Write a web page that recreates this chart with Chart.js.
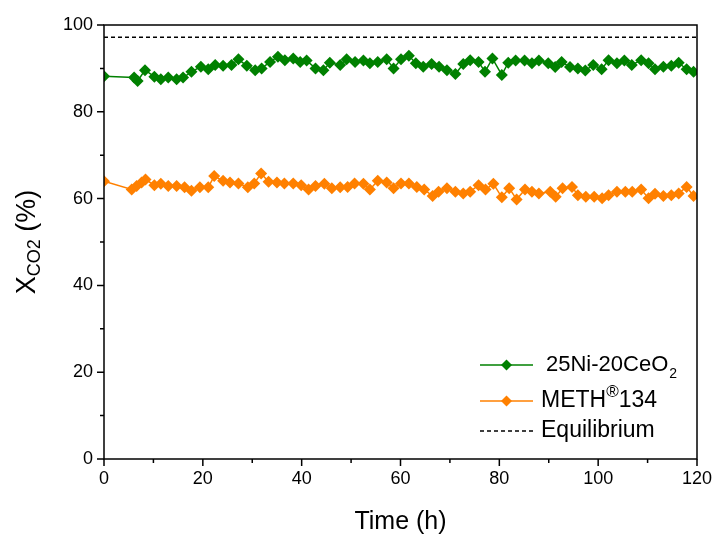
<!DOCTYPE html>
<html>
<head>
<meta charset="utf-8">
<script src="https://cdn.jsdelivr.net/npm/chart.js@4/dist/chart.umd.min.js"></script>
<style>
html,body{margin:0;padding:0;background:#fff;}
#wrap{width:717px;height:539px;position:relative;}
</style>
</head>
<body>
<div id="wrap"><canvas id="c" width="717" height="539"></canvas></div>
<script>
// ---- data ----
const greenTime = [0, 6.1, 6.8, 8.3, 10.2, 11.5, 13.0, 14.7, 16.0, 17.7, 19.6, 21.1, 22.5, 24.1, 25.8, 27.2, 28.9, 30.6, 31.9, 33.6, 35.2, 36.6, 38.3, 39.7, 41.0, 42.8, 44.4, 45.7, 47.8, 49.1, 50.8, 52.5, 53.8, 55.4, 57.2, 58.6, 60.1, 61.7, 63.1, 64.6, 66.3, 67.8, 69.4, 71.1, 72.7, 74.1, 75.8, 77.1, 78.6, 80.5, 81.8, 83.3, 85.1, 86.6, 88.0, 89.9, 91.3, 92.6, 94.3, 95.9, 97.4, 99.0, 100.7, 102.1, 103.8, 105.3, 106.8, 108.7, 110.2, 111.5, 113.2, 114.8, 116.3, 117.9, 119.3];
const greenVal = [88.2, 87.9, 87.1, 89.6, 88.1, 87.5, 87.9, 87.5, 87.9, 89.2, 90.4, 89.8, 90.8, 90.6, 90.8, 92.1, 90.6, 89.6, 90.0, 91.5, 92.7, 91.9, 92.3, 91.5, 91.8, 90.0, 89.6, 91.3, 90.8, 92.1, 91.5, 91.8, 91.2, 91.5, 92.1, 90.0, 92.1, 92.9, 91.2, 90.4, 91.0, 90.4, 89.6, 88.7, 91.0, 91.9, 91.5, 89.2, 92.3, 88.5, 91.3, 91.8, 91.8, 91.2, 91.8, 91.2, 90.3, 91.5, 90.3, 90.0, 89.5, 90.8, 89.8, 91.9, 91.2, 91.8, 90.8, 91.9, 91.2, 89.8, 90.4, 90.6, 91.3, 89.8, 89.2];
const orangeTime = [0, 5.6, 6.6, 7.6, 8.4, 10.2, 11.5, 13.0, 14.7, 16.3, 17.7, 19.4, 21.1, 22.3, 24.1, 25.5, 27.2, 29.1, 30.4, 31.8, 33.3, 35.0, 36.5, 38.3, 39.9, 41.4, 42.8, 44.6, 46.1, 47.8, 49.3, 50.7, 52.5, 53.8, 55.4, 57.2, 58.6, 60.1, 61.7, 63.3, 64.8, 66.5, 67.7, 69.4, 71.1, 72.7, 74.1, 75.8, 77.2, 78.8, 80.5, 82.0, 83.5, 85.2, 86.6, 88.0, 90.3, 91.4, 92.8, 94.7, 95.9, 97.5, 99.2, 100.8, 102.1, 103.8, 105.5, 106.9, 108.7, 110.2, 111.5, 113.2, 114.8, 116.3, 117.9, 119.3];
const orangeVal = [64.0, 62.1, 62.9, 63.7, 64.4, 63.1, 63.4, 62.9, 62.9, 62.6, 61.8, 62.6, 62.6, 65.2, 64.1, 63.7, 63.5, 62.6, 63.5, 65.8, 63.9, 63.7, 63.5, 63.5, 63.1, 62.1, 62.9, 63.4, 62.4, 62.6, 62.7, 63.5, 63.4, 62.1, 64.1, 63.7, 62.4, 63.5, 63.5, 62.7, 62.1, 60.6, 61.6, 62.4, 61.6, 61.2, 61.6, 63.1, 62.1, 63.4, 60.3, 62.4, 59.8, 62.1, 61.6, 61.2, 61.6, 60.4, 62.4, 62.7, 60.8, 60.4, 60.4, 60.1, 60.8, 61.6, 61.6, 61.6, 62.1, 60.1, 61.1, 60.6, 60.8, 61.2, 62.7, 60.6];
const equilTime = [0, 120];
const equilVal = [97.2, 97.2];
const xTicks = [0, 20, 40, 60, 80, 100, 120];
const yTicks = [0, 20, 40, 60, 80, 100];
const seriesNames = ['25Ni-20CeO2', 'METH®134', 'Equilibrium'];

const FONT = 'Liberation Sans, Arial, sans-serif';
const toXY = (xs, ys) => xs.map((x, i) => ({x: x, y: ys[i]}));

const decoPlugin = {
  id: 'deco',
  afterDraw(chart) {
    const ctx = chart.ctx, a = chart.chartArea;
    const xs = chart.scales.x, ys = chart.scales.y;
    ctx.save();
    ctx.strokeStyle = '#000';
    ctx.lineWidth = 1.5;
    ctx.strokeRect(a.left, a.top, a.right - a.left, a.bottom - a.top);
    ctx.beginPath();
    for (let v = xTicks[0]; v <= xTicks[xTicks.length - 1]; v += 10) {
      const px = xs.getPixelForValue(v);
      const L = xTicks.includes(v) ? 7 : 4;
      ctx.moveTo(px, a.bottom); ctx.lineTo(px, a.bottom + L);
    }
    for (let v = yTicks[0]; v <= yTicks[yTicks.length - 1]; v += 10) {
      const py = ys.getPixelForValue(v);
      const L = yTicks.includes(v) ? 7 : 4;
      ctx.moveTo(a.left - L, py); ctx.lineTo(a.left, py);
    }
    ctx.stroke();

    // y title: X_CO2 (%)
    ctx.fillStyle = '#000';
    ctx.translate(28, (a.top + a.bottom) / 2);
    ctx.rotate(-Math.PI / 2);
    ctx.textBaseline = 'middle';
    ctx.textAlign = 'left';
    const big = '27px ' + FONT, small = '18px ' + FONT;
    ctx.font = big; const w1 = ctx.measureText('X').width;
    ctx.font = small; const w2 = ctx.measureText('CO2').width;
    ctx.font = big; const w3 = ctx.measureText(' (%)').width;
    let x0 = -(w1 + w2 + w3) / 2;
    ctx.font = big; ctx.fillText('X', x0, 0);
    ctx.font = small; ctx.fillText('CO2', x0 + w1, 7);
    ctx.font = big; ctx.fillText(' (%)', x0 + w1 + w2, 0);
    ctx.restore();

    // legend
    ctx.save();
    const ds = chart.data.datasets;
    const rows = [
      {y: 365, tx: 546, size: 22, segs: [{t: '25Ni-20CeO'}, {t: '2', sub: true}]},
      {y: 401, tx: 541, size: 23, segs: [{t: 'METH'}, {t: '®', sup: true}, {t: '134'}]},
      {y: 431, tx: 541, size: 23, segs: [{t: 'Equilibrium'}]}
    ];
    const lx0 = 480, lx1 = 533;
    rows.forEach((r, i) => {
      const d = ds[i];
      ctx.strokeStyle = d.borderColor;
      ctx.lineWidth = d.borderWidth;
      ctx.setLineDash(d.borderDash || []);
      ctx.beginPath(); ctx.moveTo(lx0, r.y); ctx.lineTo(lx1, r.y); ctx.stroke();
      ctx.setLineDash([]);
      if (d.pointRadius > 0) {
        const m = (lx0 + lx1) / 2, rr = d.pointRadius - 0.5;
        ctx.fillStyle = d.pointBackgroundColor;
        ctx.beginPath();
        ctx.moveTo(m, r.y - rr); ctx.lineTo(m + rr, r.y); ctx.lineTo(m, r.y + rr); ctx.lineTo(m - rr, r.y);
        ctx.closePath(); ctx.fill();
      }
      ctx.fillStyle = '#000';
      ctx.textBaseline = 'middle';
      let x = r.tx;
      r.segs.forEach(s => {
        if (s.sub) { ctx.font = '14px ' + FONT; ctx.fillText(s.t, x + 1, r.y + 9); x += ctx.measureText(s.t).width + 1; }
        else if (s.sup) { ctx.font = '17px ' + FONT; ctx.fillText(s.t, x, r.y - 9); x += ctx.measureText(s.t).width; }
        else { ctx.font = r.size + 'px ' + FONT; ctx.fillText(s.t, x, r.y); x += ctx.measureText(s.t).width; }
      });
    });
    ctx.restore();
  }
};

new Chart(document.getElementById('c'), {
  type: 'scatter',
  data: {
    datasets: [
      {
        label: seriesNames[0],
        data: toXY(greenTime, greenVal),
        showLine: true,
        borderColor: '#008000', backgroundColor: '#008000',
        pointBackgroundColor: '#008000', pointBorderColor: '#008000',
        borderWidth: 1.5, pointStyle: 'rectRot', pointRadius: 6, pointBorderWidth: 0,
        clip: 0
      },
      {
        label: seriesNames[1],
        data: toXY(orangeTime, orangeVal),
        showLine: true,
        borderColor: '#FF8000', backgroundColor: '#FF8000',
        pointBackgroundColor: '#FF8000', pointBorderColor: '#FF8000',
        borderWidth: 1.5, pointStyle: 'rectRot', pointRadius: 6, pointBorderWidth: 0,
        clip: 0
      },
      {
        label: seriesNames[2],
        data: toXY(equilTime, equilVal),
        showLine: true,
        borderColor: '#000', backgroundColor: '#000',
        borderWidth: 1.5, borderDash: [4, 3], pointRadius: 0,
        clip: 0
      }
    ]
  },
  options: {
    responsive: false,
    animation: false,
    layout: {padding: {left: 0, right: 20, top: 25, bottom: 0}},
    plugins: {legend: {display: false}, tooltip: {enabled: false}},
    scales: {
      x: {
        type: 'linear', min: 0, max: 120,
        grid: {display: false, drawTicks: false},
        border: {display: false},
        ticks: {stepSize: 20, padding: 9, color: '#000', font: {family: FONT, size: 18}},
        afterBuildTicks: s => { s.ticks = xTicks.map(v => ({value: v})); },
        title: {display: true, text: 'Time (h)', color: '#000', font: {family: FONT, size: 25}, padding: {top: 0, bottom: 2}},
        afterFit: s => { s.height = 80; s.paddingLeft = 0; s.paddingRight = 0; }
      },
      y: {
        type: 'linear', min: 0, max: 100,
        grid: {display: false, drawTicks: false},
        border: {display: false},
        ticks: {stepSize: 20, padding: 11, color: '#000', font: {family: FONT, size: 18}},
        afterBuildTicks: s => { s.ticks = yTicks.map(v => ({value: v})); },
        afterFit: s => { s.width = 104; s.paddingTop = 0; s.paddingBottom = 0; }
      }
    }
  },
  plugins: [decoPlugin]
});
</script>
</body>
</html>
